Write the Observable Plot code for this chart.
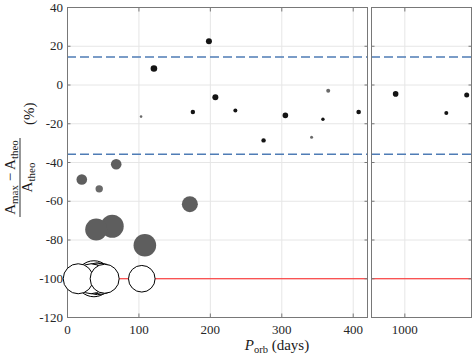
<!DOCTYPE html>
<html><head><meta charset="utf-8">
<script src="https://cdn.jsdelivr.net/npm/d3@7"></script>
<script src="https://cdn.jsdelivr.net/npm/@observablehq/plot@0.6"></script>
<style>
html,body{margin:0;padding:0;background:#fff;}
#fig{position:relative;width:474px;height:356px;font-family:"Liberation Serif","Times New Roman",serif;}
#fig svg{position:absolute;top:0;overflow:visible;}
</style></head><body><div id="fig"></div>
<script>
// ---- data ----
const period    = [121, 198, 207, 103, 175.5, 235, 274.5, 305, 341.7, 357.6, 365, 407.6, 862, 1622, 1928,
                   68.2, 20, 44.4, 171.3, 40.2, 62.6, 108.3,
                   104, 52, 47, 42, 37, 33, 15];
const deviation = [8.5, 22.6, -6.3, -16.3, -13.9, -13.2, -28.6, -15.7, -27.0, -17.7, -3.0, -13.9, -4.6, -14.4, -5.1,
                   -40.9, -48.8, -53.6, -61.5, -74.6, -72.9, -82.7,
                   -100, -100, -100, -100, -100, -100, -100];
const markerSize = [3.3, 3.0, 3.0, 1.3, 2.2, 2.0, 2.2, 2.8, 1.5, 1.7, 2.0, 2.3, 2.8, 2.0, 2.5,
                    5.3, 5.3, 3.7, 8, 11, 11.5, 11.3,
                    13.3, 14.5, 15.5, 16, 18, 15, 15];
const group     = ["in","in","in","faint","in","in","in","in","faint","in","faint","in","in","in","in",
                   "out","out","faint","out","out","out","out",
                   "none","none","none","none","none","none","none"];
const groups      = ["in", "faint", "out"];
const groupColors = ["#141414", "#6a6a6a", "#5e5e5e"];
const bandUpper = 14.5;
const bandLower = -35.7;
const fullLoss = -100;
const yTicks = [-120, -100, -80, -60, -40, -20, 0, 20, 40];
const yTickLabels = ["-120", "-100", "-80", "-60", "-40", "-20", "0", "20", "40"];
const xTicksLeft = [0, 100, 200, 300, 400];
const xTicksRight = [1000];
const xDomainLeft = [0, 420];
const xDomainRight = [500, 2000];
const yDomain = [-120, 40];

const data = period.map((p, i) => ({p, d: deviation[i], s: markerSize[i], g: group[i]}));
const fmtY = d => yTickLabels[yTicks.indexOf(d)];

function panel(xDomain, xTicks, showYLabels, width, mL, mR) {
  const rows = data.filter(r => r.p >= xDomain[0] && r.p <= xDomain[1]);
  const filled = rows.filter(r => r.g !== "none");
  const open = rows.filter(r => r.g === "none");
  return Plot.plot({
    width, height: 356,
    marginLeft: mL, marginRight: mR, marginTop: 7, marginBottom: 39,
    style: {fontFamily: '"Liberation Serif","Times New Roman",serif', fontSize: "13px", color: "#262626", background: "transparent", overflow: "visible"},
    x: {domain: xDomain, label: null},
    y: {domain: yDomain, label: null},
    r: {type: "linear", domain: [0, 20], range: [0, 20]},
    color: {domain: groups, range: groupColors},
    marks: [
      Plot.gridY(yTicks, {stroke: "#e6e6e6", strokeOpacity: 1}),
      Plot.gridX(xTicks, {stroke: "#e6e6e6", strokeOpacity: 1}),
      Plot.ruleY([bandUpper, bandLower], {x1: xDomain[0], x2: xDomain[1], stroke: "#4f7cb5", strokeWidth: 1.5, strokeDasharray: "9,4"}),
      Plot.ruleY([fullLoss], {x1: xDomain[0], x2: xDomain[1], stroke: "#ff2020", strokeWidth: 1.2}),
      Plot.frame({stroke: "#787878"}),
      Plot.axisY(yTicks, {anchor: "left", tickSize: -3.5, tickPadding: 8, stroke: "#787878",
        tickFormat: showYLabels ? fmtY : () => "", label: null}),
      Plot.axisY(yTicks, {anchor: "right", tickSize: -3.5, stroke: "#787878", tickFormat: () => "", label: null}),
      Plot.axisX(xTicks, {anchor: "bottom", tickSize: -3.5, tickPadding: 11, stroke: "#787878", tickFormat: d => String(d), label: null}),
      Plot.axisX(xTicks, {anchor: "top", tickSize: -3.5, stroke: "#787878", tickFormat: () => "", label: null}),
      Plot.dot(filled, {x: "p", y: "d", r: "s", fill: "g", stroke: null}),
      Plot.dot(open, {x: "p", y: "d", r: "s", fill: "white", stroke: "black", strokeWidth: 1})
    ]
  });
}

const fig = document.getElementById("fig");
const left = panel(xDomainLeft, xTicksLeft, true, 367, 67, 0);
left.style.left = "0px";
fig.appendChild(left);
const right = panel(xDomainRight, xTicksRight, false, 103, 0, 3);
right.style.left = "371px";
fig.appendChild(right);

// axis titles as real text
const ns = "http://www.w3.org/2000/svg";
const lab = document.createElementNS(ns, "svg");
lab.setAttribute("width", 474); lab.setAttribute("height", 356);
lab.style.left = "0px"; lab.style.pointerEvents = "none";
lab.innerHTML = `
<g fill="#1a1a1a" font-family="Liberation Serif, Times New Roman, serif">
  <g transform="translate(0,217) rotate(-90)">
    <text x="39.5" y="14.5" text-anchor="middle" font-size="15">A<tspan font-size="11" dy="3">max</tspan><tspan dy="-3"> − A</tspan><tspan font-size="11" dy="3">theo</tspan></text>
    <line x1="0" x2="79" y1="20" y2="20" stroke="#1a1a1a" stroke-width="0.9"/>
    <text x="39.5" y="32" text-anchor="middle" font-size="15">A<tspan font-size="11" dy="3">theo</tspan></text>
    <text x="92" y="34" font-size="15">(%)</text>
  </g>
  <text x="277" y="350" text-anchor="middle" font-size="15"><tspan font-style="italic">P</tspan><tspan font-size="10.5" dy="3">orb</tspan><tspan dy="-3"> (days)</tspan></text>
</g>`;
fig.appendChild(lab);
</script></body></html>
